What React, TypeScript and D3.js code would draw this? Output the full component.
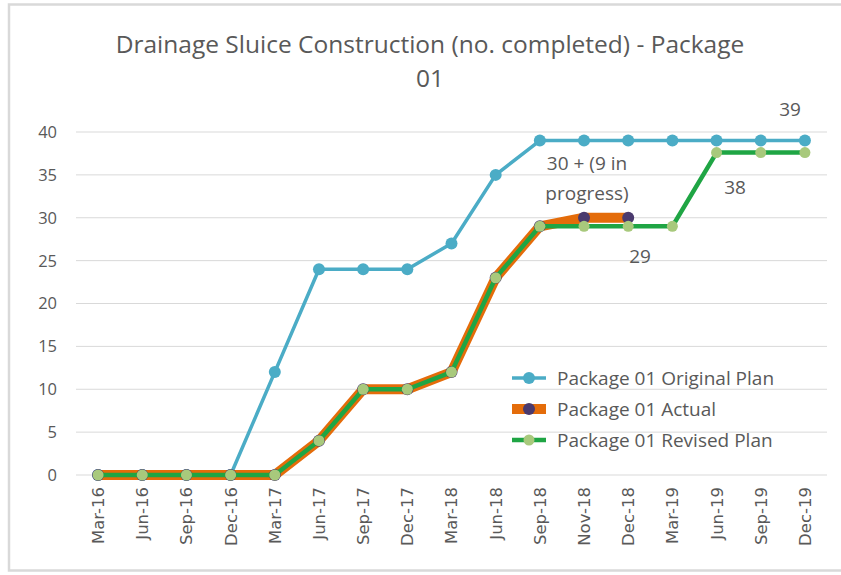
import { scaleBand, scaleLinear, line } from "d3";

const categories = ["Mar-16", "Jun-16", "Sep-16", "Dec-16", "Mar-17", "Jun-17", "Sep-17", "Dec-17", "Mar-18", "Jun-18", "Sep-18", "Nov-18", "Dec-18", "Mar-19", "Jun-19", "Sep-19", "Dec-19"];
const originalPlan = [0, 0, 0, 0, 12, 24, 24, 24, 27, 35, 39, 39, 39, 39, 39, 39, 39];
const actual = [0, 0, 0, 0, 0, 4, 10, 10, 12, 23, 29, 30, 30];
const revisedPlan = [0, 0, 0, 0, 0, 4, 10, 10, 12, 23, 29, 29, 29, 29, 37.6, 37.6, 37.6];
const yTicks = [0, 5, 10, 15, 20, 25, 30, 35, 40];
const seriesNames = ["Package 01 Original Plan", "Package 01 Actual", "Package 01 Revised Plan"];

const width = 841;
const height = 575;
const margin = { top: 132, right: 14, bottom: 100, left: 76 };
const textColor = "#595959";
const font = "'Open Sans', sans-serif";

const App = () => {
    const xScale = scaleBand()
        .domain(categories)
        .range([margin.left, width - margin.right]);
    const yScale = scaleLinear()
        .domain([0, 40])
        .range([height - margin.bottom, margin.top]);

    const cx = (i: number) => (xScale(categories[i]) as number) + xScale.bandwidth() / 2;
    const path = line<number>()
        .x((d, i) => cx(i))
        .y(d => yScale(d));

    const series = [
        { name: seriesNames[0], data: originalPlan, stroke: "#4BACC6", sw: 3.5, dot: "#4BACC6", r: 6 },
        { name: seriesNames[1], data: actual, stroke: "#E46C0A", sw: 10, dot: "#4A3A6E", r: 6 },
        { name: seriesNames[2], data: revisedPlan, stroke: "#1FA544", sw: 4.5, dot: "#A8C97C", r: 5.5 },
    ];

    return (
        <svg width={width} height={height} style={{ position: "absolute", left: 0, top: 0, background: "#fff" }}>
            <rect x={9} y={4.5} width={width} height={566} fill="none" stroke="#D9D9D9" strokeWidth={2.5} />
            <text x={430} y={53} textAnchor="middle" fill={textColor} style={{ fontFamily: font, fontSize: 24.5 }}>
                Drainage Sluice Construction (no. completed) - Package
            </text>
            <text x={430} y={87} textAnchor="middle" fill={textColor} style={{ fontFamily: font, fontSize: 24.5 }}>01</text>

            {yTicks.map(t =>
                <g key={t} transform={`translate(0,${yScale(t)})`}>
                    <line x1={margin.left} x2={width - margin.right} stroke="#D9D9D9" strokeWidth={1} />
                    <text x={57} dy="0.36em" textAnchor="end" fill={textColor} style={{ fontFamily: font, fontSize: 16.5 }}>{t}</text>
                </g>
            )}

            {categories.map((c, i) =>
                <text key={c} transform={`translate(${cx(i)},487) rotate(-90)`} dy="0.36em" textAnchor="end"
                    fill={textColor} style={{ fontFamily: "'DejaVu Sans', sans-serif", fontSize: 16.5 }}>{c}</text>
            )}

            {series.map(s =>
                <g key={s.name}>
                    <path d={path(s.data) as string} fill="none" stroke={s.stroke} strokeWidth={s.sw} strokeLinejoin="round" />
                    {s.data.map((d, i) =>
                        <circle key={i} cx={cx(i)} cy={yScale(d)} r={s.r} fill={s.dot} />
                    )}
                </g>
            )}

            {series.map((s, i) =>
                <g key={s.name} transform={`translate(512,${378 + i * 31})`}>
                    <line x1={0} x2={34} stroke={s.stroke} strokeWidth={s.sw} />
                    <circle cx={17} cy={0} r={s.r} fill={s.dot} />
                    <text x={45} dy="0.36em" fill={textColor} style={{ fontFamily: font, fontSize: 19 }}>{s.name}</text>
                </g>
            )}

            <g fill={textColor} style={{ fontFamily: font, fontSize: 19 }}>
                <text x={790} y={116} textAnchor="middle">39</text>
                <text x={587} y={170} textAnchor="middle">30 + (9 in</text>
                <text x={587} y={200} textAnchor="middle">progress)</text>
                <text x={735} y={194} textAnchor="middle">38</text>
                <text x={640} y={263} textAnchor="middle">29</text>
            </g>
        </svg>
    );
};

export default App;
